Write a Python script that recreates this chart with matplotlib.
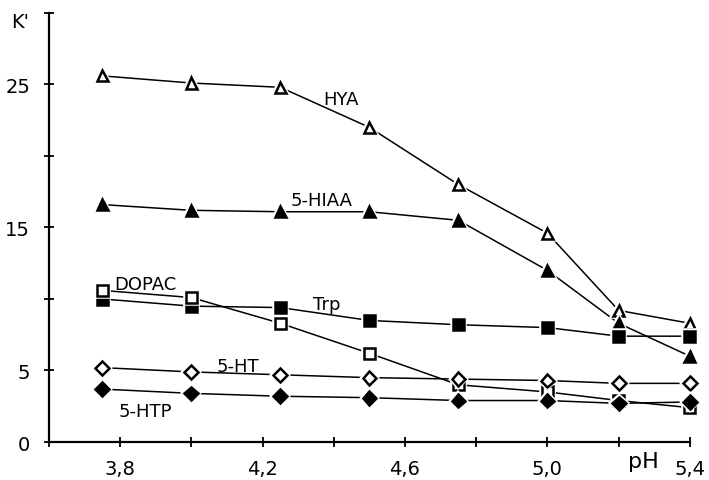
import matplotlib
matplotlib.use("Agg")
import matplotlib.pyplot as plt
import matplotlib.patheffects as pe

# pH values of the measurements
ph = [3.75, 4.0, 4.25, 4.5, 4.75, 5.0, 5.2, 5.4]

# capacity factors K' for each compound
hya = [25.6, 25.1, 24.8, 22.0, 18.0, 14.6, 9.2, 8.3]
hiaa = [16.6, 16.2, 16.1, 16.1, 15.5, 12.0, 8.3, 6.0]
trp = [10.0, 9.5, 9.4, 8.5, 8.2, 8.0, 7.4, 7.4]
dopac = [10.6, 10.1, 8.3, 6.2, 4.0, 3.5, 2.9, 2.4]
ht = [5.2, 4.9, 4.7, 4.5, 4.4, 4.3, 4.1, 4.1]
htp = [3.7, 3.4, 3.2, 3.1, 2.9, 2.9, 2.7, 2.8]

x_ticks = [3.6, 3.8, 4.0, 4.2, 4.4, 4.6, 4.8, 5.0, 5.2, 5.4]
x_labels = ["", "3,8", "", "4,2", "", "4,6", "", "5,0", "", "5,4"]
y_ticks = [0, 5, 10, 15, 20, 25, 30]
y_labels = ["0", "5", "", "15", "", "25", ""]

fig = plt.figure(figsize=(7.09, 4.81), dpi=100)
ax = fig.add_axes([0.069, 0.079, 0.904, 0.892])

halo = [pe.Stroke(linewidth=4, foreground="white"), pe.Normal()]

series = [
    (hya, "^", "white"),
    (hiaa, "^", "black"),
    (trp, "s", "black"),
    (dopac, "s", "white"),
    (ht, "D", "white"),
    (htp, "D", "black"),
]
for vals, m, fc in series:
    ax.plot(ph, vals, "-", color="black", lw=1.1, zorder=2, clip_on=False)
for vals, m, fc in series:
    ms = 8 if m != "D" else 7
    ax.plot(ph, vals, linestyle="none", marker=m, ms=ms, mfc=fc,
            mec="black", mew=1.8, path_effects=halo, zorder=3, clip_on=False)

font = dict(fontsize=13, color="black")
ax.text(4.42, 24.0, "HYA", ha="center", va="center", **font)
ax.text(4.365, 16.9, "5-HIAA", ha="center", va="center", **font)
ax.text(3.87, 11.05, "DOPAC", ha="center", va="center", **font)
ax.text(4.38, 9.65, "Trp", ha="center", va="center", **font)
ax.text(4.13, 5.3, "5-HT", ha="center", va="center", **font)
ax.text(3.87, 2.2, "5-HTP", ha="center", va="center", **font)
ax.text(3.52, 29.4, "K'", ha="center", va="center", fontsize=14)
ax.text(5.27, -1.3, "pH", ha="center", va="center", fontsize=16)

ax.set_xlim(3.6, 5.4)
ax.set_ylim(0, 30)
ax.set_xticks(x_ticks)
ax.set_xticklabels(x_labels, fontsize=14)
ax.set_yticks(y_ticks)
ax.set_yticklabels(y_labels, fontsize=14)
ax.tick_params(axis="x", direction="inout", length=7, width=1.3, pad=9)
ax.tick_params(axis="y", direction="inout", length=7, width=1.3, pad=10)
for s in ["top", "right"]:
    ax.spines[s].set_visible(False)
for s in ["left", "bottom"]:
    ax.spines[s].set_linewidth(1.6)

fig.savefig("out.png", dpi=100)
